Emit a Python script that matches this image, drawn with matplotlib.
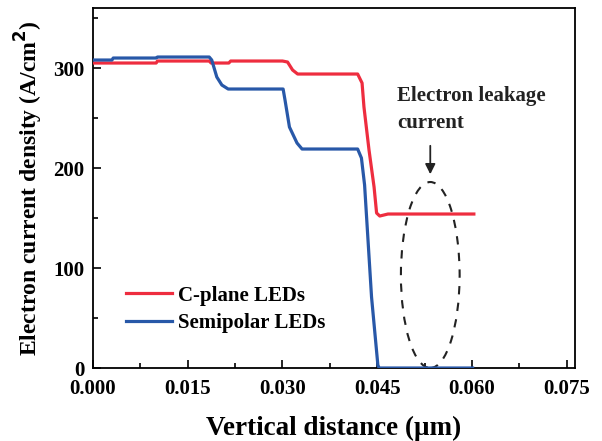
import matplotlib
matplotlib.use("Agg")
import matplotlib.pyplot as plt
from matplotlib.patches import Ellipse

plt.rcParams['font.family'] = ['Liberation Serif', 'DejaVu Serif']
plt.rcParams['font.weight'] = 'bold'

# C-plane LEDs (red)
cplane_x = [0.0, 0.0100, 0.0102, 0.0184, 0.0187, 0.0215, 0.0218, 0.0300, 0.0308,
            0.0316, 0.0324, 0.0419, 0.0426, 0.0429, 0.0437, 0.0445, 0.0449, 0.0454,
            0.0467, 0.0603]
cplane_y = [305, 305, 307, 307, 305, 305, 307, 307, 306, 298, 294, 294, 285, 261,
            218, 181, 155, 152, 154, 154]

# Semipolar LEDs (blue)
semi_x = [0.0, 0.0030, 0.0032, 0.0100, 0.0102, 0.0184, 0.0188, 0.0196, 0.0204,
          0.0214, 0.0301, 0.0304, 0.0311, 0.0323, 0.0331, 0.0419, 0.0425, 0.0430,
          0.0441, 0.0451, 0.0453, 0.0601]
semi_y = [308, 308, 310, 310, 311, 311, 308, 291, 283, 279, 279, 268, 241, 225,
          219, 219, 210, 183, 71, 3, 0, 0]

fig = plt.figure(figsize=(6.02, 4.41), dpi=100)
ax = fig.add_axes([0.1545, 0.1655, 0.8005, 0.8163])

ax.plot(cplane_x, cplane_y, color='#EE2D3F', lw=2.3, label='C-plane LEDs', zorder=3)
ax.plot(semi_x, semi_y, color='#2858A8', lw=2.3, label='Semipolar LEDs', zorder=3)

ax.set_xlim(0, 0.0763)
ax.set_ylim(0, 360)
ax.set_xticks([0.0, 0.015, 0.030, 0.045, 0.060, 0.075])
ax.set_xticklabels(['0.000', '0.015', '0.030', '0.045', '0.060', '0.075'])
ax.set_xticks([0.0075, 0.0225, 0.0375, 0.0525, 0.0675], minor=True)
ax.set_yticks([0, 100, 200, 300])
ax.set_yticks([50, 150, 250, 350], minor=True)
ax.tick_params(which='both', direction='in', width=1.2, labelsize=15)
ax.tick_params(which='major', length=6)
ax.tick_params(which='minor', length=3.5)
ax.tick_params(axis='x', which='major', pad=8)
ax.tick_params(axis='y', which='major', pad=6)
for s in ax.spines.values():
    s.set_linewidth(1.3)

ax.set_xlabel('Vertical distance (\u03bcm)', fontsize=19.5, fontweight='bold', labelpad=12)
ax.set_ylabel('Electron current density (A/cm$^\\mathbf{2}$)', fontsize=17,
              fontweight='bold', labelpad=6)

# leakage annotation
ell = Ellipse((0.0534, 93), 0.0093, 186, fill=False, ls=(0, (4, 4)), lw=1.5,
              color='#222222', zorder=2)
ax.add_patch(ell)
ax.annotate('', xy=(0.0534, 191), xytext=(0.0534, 225),
            arrowprops=dict(arrowstyle='-|>', color='#222222', lw=1.3,
                            mutation_scale=15))
ax.text(0.0481, 235, 'Electron leakage\ncurrent', fontsize=15, fontweight='bold',
        color='#222222', linespacing=1.45, va='bottom')

ax.legend(loc='lower left', bbox_to_anchor=(0.03, 0.045), frameon=False,
          fontsize=15, handlelength=2.2, handletextpad=0.3, labelspacing=0.35)

fig.savefig('out.png', dpi=100)
